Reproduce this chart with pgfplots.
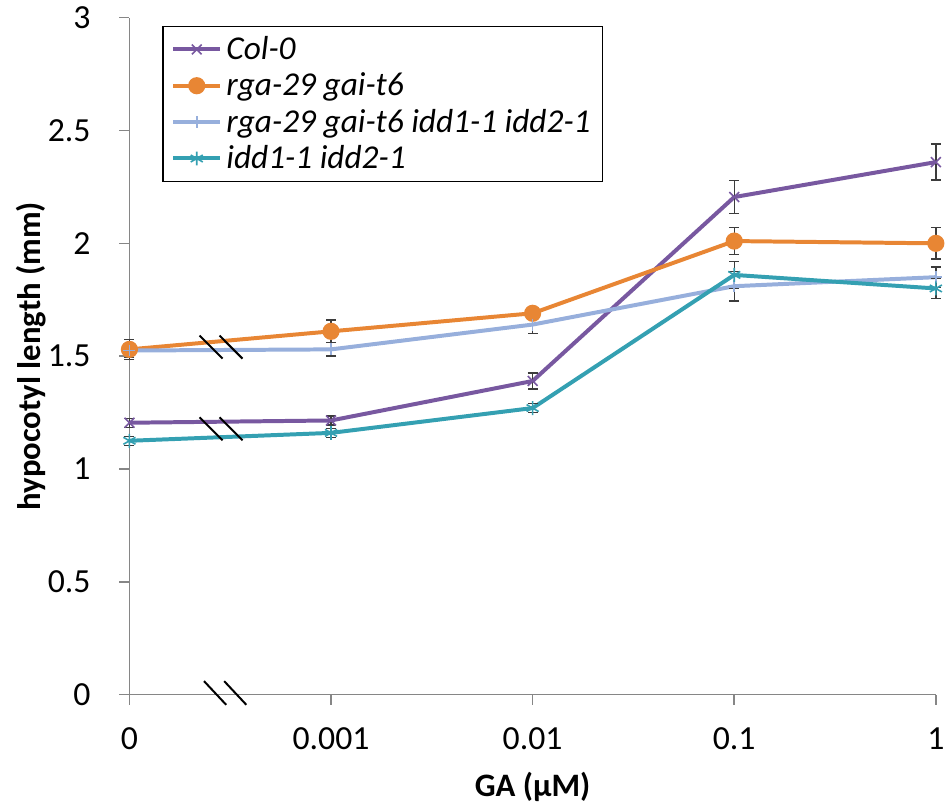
\documentclass[border=0pt]{standalone}
\usepackage{fontspec}
\setmainfont{Carlito}
\usepackage{pgfplots}
\pgfplotsset{compat=1.18}
\definecolor{cpurple}{RGB}{120,88,160}
\definecolor{corange}{RGB}{232,134,52}
\definecolor{clblue}{RGB}{151,175,220}
\definecolor{cteal}{RGB}{52,160,178}
\definecolor{caxis}{RGB}{134,134,134}
\definecolor{cerr}{RGB}{60,60,60}
\begin{document}
\begin{tikzpicture}
\begin{axis}[
  scale only axis, width=405bp, height=340bp,
  xmin=0, xmax=4, ymin=0, ymax=3,
  xtick={0,1,2,3,4}, xticklabels={0,0.001,0.01,0.1,1},
  ytick={0,0.5,1,1.5,2,2.5,3},
  axis x line*=bottom, axis y line*=left,
  axis line style={caxis, line width=0.8bp},
  tick style={caxis, line width=0.8bp},
  tick align=outside, major tick length=5bp,
  tick label style={font=\fontsize{17}{20}\selectfont},
  xticklabel style={yshift=-8bp},
  yticklabel style={xshift=-11bp},
  /pgf/number format/assume math mode=true,
  xlabel={GA (µM)}, ylabel={hypocotyl length (mm)},
  label style={font=\fontsize{16.5}{19}\selectfont\bfseries},
  xlabel style={yshift=-4.5bp},
  ylabel style={yshift=-6bp},
  clip=false,
  legend style={at={(0.041,0.988)}, anchor=north west, draw=black, line width=0.6bp,
    font=\fontsize{16.8}{18}\selectfont\itshape, inner xsep=4bp, inner ysep=3bp,
    row sep=1.2bp},
  legend cell align=left,
  legend image code/.code={\draw[mark repeat=2,mark phase=2] plot coordinates {(0cm,0cm) (0.42cm,0cm) (0.84cm,0cm)};},
  every axis plot/.append style={line width=2bp},
  error bars/error bar style={cerr, line width=0.7bp},
  error bars/error mark options={cerr, rotate=90, mark size=2.5bp, line width=0.7bp},
]
\addplot+[cpurple, mark=x, mark size=3.5bp, mark options={line width=0.8bp, fill=cpurple},
  error bars/.cd, y dir=both, y explicit]
  coordinates {(0,1.205) +- (0,0.02) (1,1.215) +- (0,0.02) (2,1.39) +- (0,0.035) (3,2.205) +- (0,0.074) (4,2.36) +- (0,0.08)};
\addlegendentry{Col-0}
\addplot+[corange, mark=*, mark size=3.3bp, mark options={fill=corange, draw=corange},
  error bars/.cd, y dir=both, y explicit]
  coordinates {(0,1.53) +- (0,0.045) (1,1.61) +- (0,0.05) (2,1.69) +- (0,0.02) (3,2.01) +- (0,0.06) (4,2.00) +- (0,0.07)};
\addlegendentry{rga-29 gai-t6}
\addplot+[clblue, mark=+, mark size=3bp, mark options={line width=0.8bp},
  error bars/.cd, y dir=both, y explicit]
  coordinates {(0,1.525) +- (0,0.03) (1,1.53) +- (0,0.03) (2,1.64) +- (0,0.04) (3,1.81) +- (0,0.065) (4,1.85) +- (0,0.045)};
\addlegendentry{rga-29 gai-t6 idd1-1 idd2-1}
\addplot+[cteal, mark=asterisk, mark size=3.5bp, mark options={line width=0.8bp},
  error bars/.cd, y dir=both, y explicit]
  coordinates {(0,1.125) +- (0,0.02) (1,1.16) +- (0,0.02) (2,1.27) +- (0,0.02) (3,1.86) +- (0,0.06) (4,1.80) +- (0,0.045)};
\addlegendentry{idd1-1 idd2-1}
\draw[black, line width=1bp] (axis cs:0.348,1.591) -- (axis cs:0.462,1.489);
\draw[black, line width=1bp] (axis cs:0.447,1.591) -- (axis cs:0.561,1.489);
\draw[black, line width=1bp] (axis cs:0.348,1.229) -- (axis cs:0.462,1.127);
\draw[black, line width=1bp] (axis cs:0.447,1.229) -- (axis cs:0.561,1.127);
\draw[black, line width=1bp] (axis cs:0.37,0.06) -- (axis cs:0.48,-0.045);
\draw[black, line width=1bp] (axis cs:0.47,0.06) -- (axis cs:0.58,-0.045);
\path (rel axis cs:0,0.5) ++(-65bp,0);
\end{axis}
\end{tikzpicture}
\end{document}
